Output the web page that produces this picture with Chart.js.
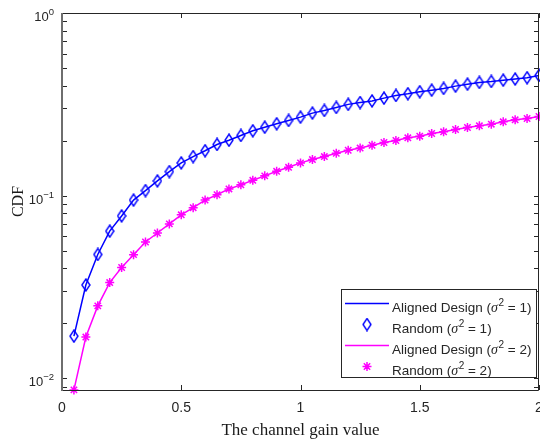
<!DOCTYPE html>
<html>
<head>
<meta charset="utf-8">
<script src="https://cdn.jsdelivr.net/npm/chart.js@4.4.0/dist/chart.umd.min.js"></script>
<style>
  html, body { margin: 0; padding: 0; background: #fff; }
  canvas { display: block; }
</style>
</head>
<body>
<canvas id="chart" width="540" height="441"></canvas>
<script>
// channel gain samples
const gain = [0.05, 0.10, 0.15, 0.20, 0.25, 0.30, 0.35, 0.40, 0.45, 0.50,
              0.55, 0.60, 0.65, 0.70, 0.75, 0.80, 0.85, 0.90, 0.95, 1.00,
              1.05, 1.10, 1.15, 1.20, 1.25, 1.30, 1.35, 1.40, 1.45, 1.50,
              1.55, 1.60, 1.65, 1.70, 1.75, 1.80, 1.85, 1.90, 1.95, 2.00];

// CDF, sigma^2 = 1
const cdfSigma1 = [0.0170, 0.0324, 0.0476, 0.0639, 0.0774, 0.0945, 0.1065, 0.1204, 0.1354, 0.1510,
                   0.1635, 0.1761, 0.1905, 0.2011, 0.2134, 0.2264, 0.2369, 0.2473, 0.2580, 0.2690,
                   0.2830, 0.2926, 0.3039, 0.3160, 0.3235, 0.3300, 0.3418, 0.3536, 0.3613, 0.3705,
                   0.3780, 0.3863, 0.3977, 0.4078, 0.4167, 0.4219, 0.4289, 0.4350, 0.4421, 0.4552];

// CDF, sigma^2 = 2
const cdfSigma2 = [0.00863, 0.0168, 0.0249, 0.0334, 0.0404, 0.0475, 0.0557, 0.0624, 0.0700, 0.0785,
                   0.0859, 0.0945, 0.1011, 0.1088, 0.1145, 0.1213, 0.1283, 0.1359, 0.1429, 0.1511,
                   0.1576, 0.1636, 0.1706, 0.1772, 0.1822, 0.1887, 0.1953, 0.2003, 0.2072, 0.2115,
                   0.2188, 0.2236, 0.2301, 0.2360, 0.2411, 0.2461, 0.2537, 0.2601, 0.2644, 0.2712];

const xTicks = [0, 0.5, 1, 1.5, 2];
const xTickLabels = ['0', '0.5', '1', '1.5', '2'];
const yDecades = [0.01, 0.1, 1];
const yExponents = ['\u22122', '\u22121', '0'];
const seriesNames = ['Aligned Design', 'Random', 'Aligned Design', 'Random'];
const seriesSigma = ['1', '1', '2', '2'];

const BLUE = '#0000ff';
const MAGENTA = '#ff00ff';
const AXIS = '#262626';
const SANS = '"Liberation Sans", Arial, sans-serif';
const SERIF = '"Liberation Serif", "Times New Roman", serif';

// outlined diamond, a bit taller than wide
const diamond = document.createElement('canvas');
diamond.width = 10;
diamond.height = 14;
(function () {
  const c = diamond.getContext('2d');
  c.strokeStyle = BLUE;
  c.lineWidth = 1.4;
  c.beginPath();
  c.moveTo(5, 1);
  c.lineTo(9, 7);
  c.lineTo(5, 13);
  c.lineTo(1, 7);
  c.closePath();
  c.stroke();
})();

const pts = ys => gain.map((g, i) => ({ x: g, y: ys[i] }));

function legendLabel(i) {
  return seriesNames[i] + ' (\u03c3\u00b2 = ' + seriesSigma[i] + ')';
}

const datasets = [
  { label: legendLabel(0), data: pts(cdfSigma1), borderColor: BLUE, borderWidth: 1.5,
    pointRadius: 0, showLine: true },
  { label: legendLabel(1), data: pts(cdfSigma1), borderColor: BLUE, showLine: false,
    pointStyle: diamond, pointRadius: 5 },
  { label: legendLabel(2), data: pts(cdfSigma2), borderColor: MAGENTA, borderWidth: 1.5,
    pointRadius: 0, showLine: true },
  { label: legendLabel(3), data: pts(cdfSigma2), borderColor: MAGENTA, backgroundColor: MAGENTA,
    showLine: false, pointStyle: 'star', pointRadius: 4.5, pointBorderWidth: 1.5 }
];
datasets.forEach(d => { d.clip = false; d.tension = 0; d.fill = false; });

// box, inward ticks, tick labels, axis titles and legend
const axesDecor = {
  id: 'axesDecor',
  afterDatasetsDraw(chart) {
    const { ctx, chartArea: a, scales: { x, y } } = chart;
    ctx.save();

    // ticks
    ctx.strokeStyle = AXIS;
    ctx.lineWidth = 1;
    ctx.beginPath();
    xTicks.forEach(v => {
      const px = Math.round(x.getPixelForValue(v)) + 0.5;
      ctx.moveTo(px, a.bottom); ctx.lineTo(px, a.bottom - 5);
      ctx.moveTo(px, a.top); ctx.lineTo(px, a.top + 5);
    });
    for (let e = -3; e < 0; e++) {
      for (let m = 1; m < 10; m++) {
        const v = m * Math.pow(10, e);
        if (v < y.min || v > y.max) continue;
        const py = Math.round(y.getPixelForValue(v)) + 0.5;
        ctx.moveTo(a.left, py); ctx.lineTo(a.left + 5, py);
        ctx.moveTo(a.right, py); ctx.lineTo(a.right - 5, py);
      }
    }
    ctx.stroke();

    // box
    ctx.beginPath();
    ctx.moveTo(a.left, a.top + 0.5); ctx.lineTo(a.right - 0.5, a.top + 0.5);
    ctx.lineTo(a.right - 0.5, a.bottom + 0.5); ctx.lineTo(a.left, a.bottom + 0.5);
    ctx.stroke();
    ctx.strokeStyle = '#6e6e6e';
    ctx.lineWidth = 2;
    ctx.beginPath();
    ctx.moveTo(a.left, a.top); ctx.lineTo(a.left, a.bottom + 1);
    ctx.stroke();

    // x tick labels
    ctx.fillStyle = AXIS;
    ctx.font = '14px ' + SANS;
    ctx.textAlign = 'center';
    ctx.textBaseline = 'alphabetic';
    xTicks.forEach((v, i) => {
      ctx.fillText(xTickLabels[i], x.getPixelForValue(v), a.bottom + 22);
    });

    // y tick labels as 10^n
    yDecades.forEach((v, i) => {
      const py = y.getPixelForValue(v);
      ctx.font = '13px ' + SANS;
      const wBase = ctx.measureText('10').width;
      ctx.font = '9.5px ' + SANS;
      const wExp = ctx.measureText(yExponents[i]).width;
      const x0 = 54 - wBase - wExp;
      ctx.textAlign = 'left';
      ctx.font = '13px ' + SANS;
      ctx.fillText('10', x0, py + 8);
      ctx.font = '9.5px ' + SANS;
      ctx.fillText(yExponents[i], x0 + wBase, py + 2);
    });

    // axis titles
    ctx.fillStyle = '#1a1a1a';
    ctx.font = '17px ' + SERIF;
    ctx.textAlign = 'center';
    ctx.fillText('The channel gain value', (a.left + a.right) / 2, 435);
    ctx.save();
    ctx.translate(23, (a.top + a.bottom) / 2);
    ctx.rotate(-Math.PI / 2);
    ctx.font = '16px ' + SERIF;
    ctx.fillText('CDF', 0, 0);
    ctx.restore();

    // legend
    const box = { left: 341.5, top: 289.5, right: 536.5, bottom: 377.5 };
    ctx.fillStyle = '#fff';
    ctx.fillRect(box.left, box.top, box.right - box.left, box.bottom - box.top);
    ctx.strokeStyle = AXIS;
    ctx.lineWidth = 1;
    ctx.strokeRect(box.left, box.top, box.right - box.left, box.bottom - box.top);

    chart.data.datasets.forEach((ds, i) => {
      const ry = 303.5 + i * 21;
      if (ds.showLine) {
        ctx.strokeStyle = ds.borderColor;
        ctx.lineWidth = ds.borderWidth;
        ctx.beginPath();
        ctx.moveTo(345, ry); ctx.lineTo(389, ry);
        ctx.stroke();
      } else if (ds.pointStyle === 'star') {
        ctx.strokeStyle = ds.borderColor;
        ctx.lineWidth = ds.pointBorderWidth;
        Chart.helpers.drawPoint(ctx, {
          pointStyle: 'star', radius: ds.pointRadius, rotation: 0, borderWidth: ds.pointBorderWidth
        }, 367, ry);
      } else {
        Chart.helpers.drawPoint(ctx, {
          pointStyle: ds.pointStyle, radius: ds.pointRadius, rotation: 0
        }, 367, ry);
      }
      // label text: name (σ² = n)
      const base = ry + 8.5;
      let tx = 392;
      ctx.fillStyle = AXIS;
      ctx.textAlign = 'left';
      ctx.font = '13.5px ' + SANS;
      const head = seriesNames[i] + ' (';
      ctx.fillText(head, tx, base);
      tx += ctx.measureText(head).width;
      ctx.font = 'italic 14px ' + SERIF;
      ctx.fillText('\u03c3', tx, base);
      tx += ctx.measureText('\u03c3').width + 0.5;
      ctx.font = '10px ' + SANS;
      ctx.fillText('2', tx, base - 6);
      tx += ctx.measureText('2').width;
      ctx.font = '13.5px ' + SANS;
      ctx.fillText(' = ' + seriesSigma[i] + ')', tx, base);
    });

    ctx.restore();
  }
};

new Chart(document.getElementById('chart').getContext('2d'), {
  type: 'line',
  data: { datasets },
  options: {
    responsive: false,
    animation: false,
    layout: { autoPadding: false, padding: { left: 62, top: 13, right: 1, bottom: 51 } },
    scales: {
      x: { type: 'linear', min: 0, max: 2, display: false },
      y: { type: 'logarithmic', min: 0.00862, max: 1, display: false }
    },
    plugins: {
      legend: { display: false },
      tooltip: { enabled: false }
    }
  },
  plugins: [axesDecor]
});
</script>
</body>
</html>
